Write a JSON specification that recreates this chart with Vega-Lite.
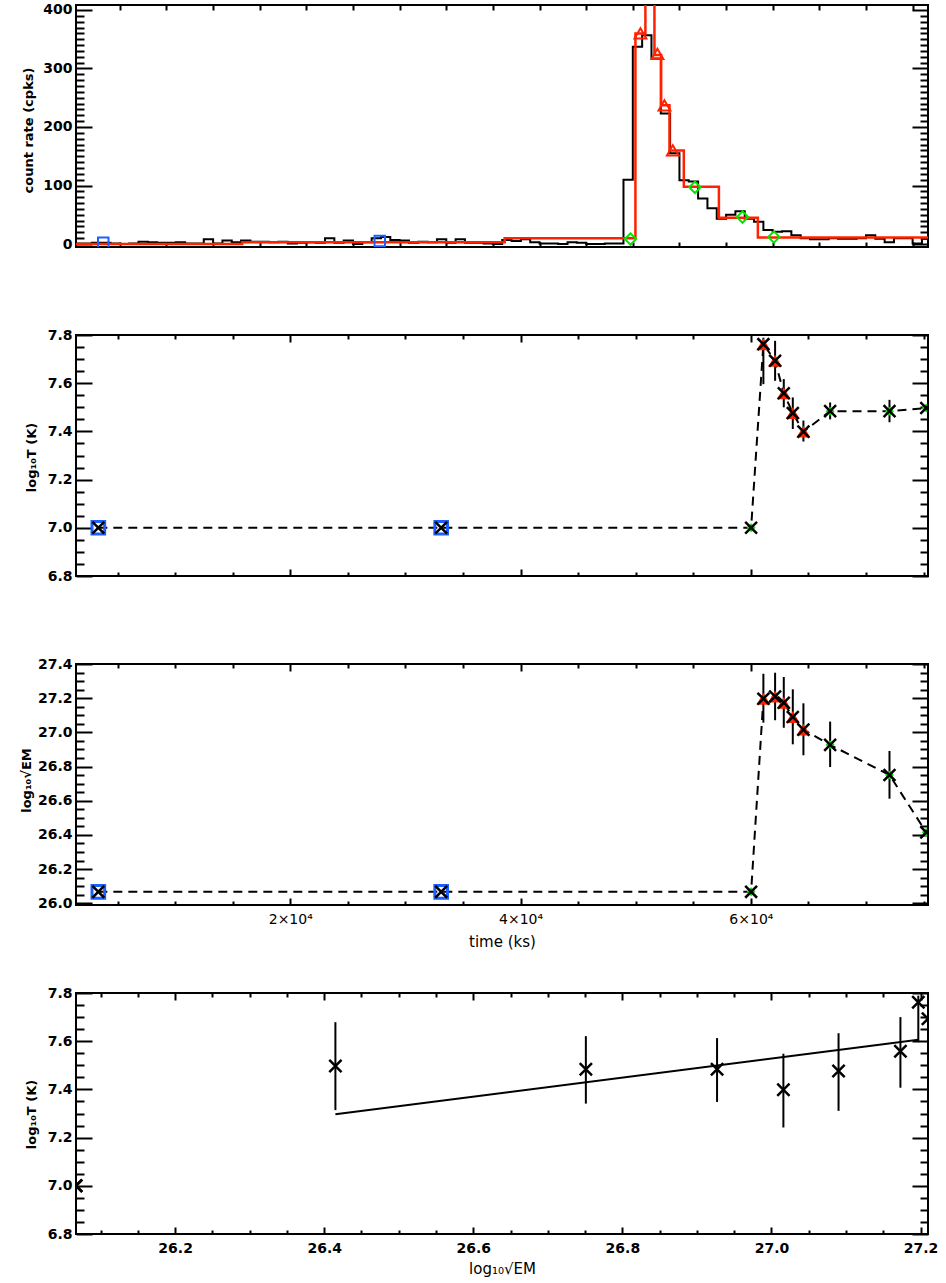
{
  "$schema": "https://vega.github.io/schema/vega-lite/v6.json",
  "padding": {"left": 19, "top": 1, "right": 4, "bottom": 0},
  "background": "white",
  "bounds": "flush",
  "spacing": 88,
  "datasets": {
    "lc": [
      {"u":0,"c":1},{"u":1,"c":1},{"u":2,"c":2},{"u":3,"c":2},{"u":4,"c":1},{"u":5,"c":0},{"u":6,"c":1},{"u":7,"c":4},{"u":8,"c":3},{"u":9,"c":2},
      {"u":10,"c":2},{"u":11,"c":3},{"u":12,"c":1},{"u":13,"c":1},{"u":14,"c":8},{"u":15,"c":1},{"u":16,"c":6},{"u":17,"c":3},{"u":18,"c":6},{"u":19,"c":4},
      {"u":20,"c":4},{"u":21,"c":3},{"u":22,"c":4},{"u":23,"c":1},{"u":24,"c":2},{"u":25,"c":3},{"u":26,"c":2},{"u":27,"c":10},{"u":28,"c":2},{"u":29,"c":6},
      {"u":30,"c":0},{"u":31,"c":3},{"u":32,"c":10},{"u":33,"c":12},{"u":34,"c":7},{"u":35,"c":6},{"u":36,"c":2},{"u":37,"c":4},{"u":38,"c":3},{"u":39,"c":8},
      {"u":40,"c":2},{"u":41,"c":8},{"u":42,"c":2},{"u":43,"c":2},{"u":44,"c":1},{"u":45,"c":0},{"u":46,"c":7},{"u":47,"c":5},{"u":48,"c":8},{"u":49,"c":3},
      {"u":50,"c":1},{"u":51,"c":1},{"u":52,"c":0},{"u":53,"c":3},{"u":54,"c":2},{"u":55,"c":0},{"u":56,"c":0},{"u":57,"c":1},{"u":58,"c":1},{"u":59,"c":110},
      {"u":60,"c":337},{"u":61,"c":357},{"u":62,"c":317},{"u":63,"c":223},{"u":64,"c":155},{"u":65,"c":109},{"u":66,"c":107},{"u":67,"c":78},{"u":68,"c":61},{"u":69,"c":43},
      {"u":70,"c":50},{"u":71,"c":56},{"u":72,"c":43},{"u":73,"c":38},{"u":74,"c":24},{"u":75,"c":21},{"u":76,"c":22},{"u":77,"c":15},{"u":78,"c":10},{"u":79,"c":8},
      {"u":80,"c":8},{"u":81,"c":10},{"u":82,"c":9},{"u":83,"c":9},{"u":84,"c":10},{"u":85,"c":15},{"u":86,"c":9},{"u":87,"c":3},{"u":88,"c":10},{"u":89,"c":10},
      {"u":90,"c":1},{"u":91,"c":9},{"u":92,"c":9}
    ],
    "blocks": [
      {"u":0.3,"c":0},{"u":18.11,"c":3},{"u":46.26,"c":10},{"u":60.28,"c":360},{"u":61.35,"c":440},{"u":62.32,"c":323},
      {"u":63.04,"c":237},{"u":63.93,"c":160},{"u":65.47,"c":98},{"u":69.23,"c":45},{"u":73.41,"c":11},{"u":91.65,"c":11}
    ],
    "lcpts": [
      {"u":3.22,"c":2,"kind":"bg"},{"u":32.87,"c":5,"kind":"bg"},
      {"u":59.75,"c":8.5,"kind":"decay"},{"u":66.66,"c":97,"kind":"decay"},{"u":71.76,"c":46,"kind":"decay"},{"u":75.13,"c":12,"kind":"decay"},
      {"u":60.82,"c":360,"kind":"flare"},{"u":62.64,"c":325,"kind":"flare"},{"u":63.39,"c":237,"kind":"flare"},{"u":64.29,"c":160,"kind":"flare"}
    ],
    "pts": [
      {"t":3333,"T":7.0,"EM":26.067,"kind":"bg"},
      {"t":33106,"T":7.0,"EM":26.067,"kind":"bg"},
      {"t":60020,"T":7.0,"EM":26.067,"kind":"decay"},
      {"t":61086,"T":7.762,"Tlo":7.596,"Thi":7.789,"EM":27.197,"EMlo":27.057,"EMhi":27.343,"T4lo":7.596,"T4hi":7.789,"kind":"flare"},
      {"t":62103,"T":7.693,"Tlo":7.61,"Thi":7.776,"EM":27.21,"EMlo":27.071,"EMhi":27.349,"kind":"flare"},
      {"t":62857,"T":7.558,"Tlo":7.5,"Thi":7.617,"EM":27.173,"EMlo":27.027,"EMhi":27.324,"T4lo":7.407,"T4hi":7.7,"kind":"flare"},
      {"t":63640,"T":7.476,"Tlo":7.41,"Thi":7.541,"EM":27.09,"EMlo":26.93,"EMhi":27.252,"T4lo":7.311,"T4hi":7.633,"kind":"flare"},
      {"t":64563,"T":7.399,"Tlo":7.358,"Thi":7.445,"EM":27.016,"EMlo":26.866,"EMhi":27.17,"T4lo":7.242,"T4hi":7.548,"kind":"flare"},
      {"t":66883,"T":7.484,"Tlo":7.45,"Thi":7.52,"EM":26.927,"EMlo":26.797,"EMhi":27.063,"T4lo":7.348,"T4hi":7.613,"kind":"decay"},
      {"t":72037,"T":7.484,"Tlo":7.438,"Thi":7.531,"EM":26.751,"EMlo":26.612,"EMhi":26.891,"T4lo":7.341,"T4hi":7.621,"kind":"decay"},
      {"t":75230,"T":7.497,"EM":26.415,"T4lo":7.314,"T4hi":7.679,"kind":"decay"}
    ],
    "fit": [
      {"EM":26.415,"T":7.297},{"EM":27.197,"T":7.606}
    ]
  },
  "vconcat": [
    {
      "width": 852, "height": 242,
      "resolve": {"axis": {"x": "independent", "y": "independent"}},
      "layer": [
        {
          "data": {"name": "lc"},
          "mark": {"type": "line", "interpolate": "step-after", "color": "#000", "strokeWidth": 2, "clip": true},
          "encoding": {
            "x": {"field": "u", "type": "quantitative", "scale": {"domain": [0.3, 91.65], "nice": false, "zero": false},
                  "axis": {"orient": "bottom", "values": [5,10,15,20,25,30,35,40,45,50,55,60,65,70,75,80,85,90], "tickSize": -5, "labels": false, "title": null}},
            "y": {"field": "c", "type": "quantitative", "scale": {"domain": [-5.1, 408.5], "nice": false, "zero": false},
                  "axis": {"orient": "left", "values": [0,100,200,300,400], "tickSize": -16, "labelPadding": 20, "title": "count rate (cpks)", "titleX": -48, "titleY": 125, "titleAngle": -90, "titleBaseline": "middle", "titleAlign": "center"}}
          }
        },
        {
          "data": {"name": "blocks"},
          "mark": {"type": "line", "interpolate": "step-after", "color": "#ff2200", "strokeWidth": 2.5, "clip": true},
          "encoding": {
            "x": {"field": "u", "type": "quantitative", "scale": {"domain": [0.3, 91.65], "nice": false, "zero": false},
                  "axis": {"orient": "top", "values": [5,10,15,20,25,30,35,40,45,50,55,60,65,70,75,80,85,90], "tickSize": -5, "labels": false, "title": null}},
            "y": {"field": "c", "type": "quantitative", "scale": {"domain": [-5.1, 408.5], "nice": false, "zero": false},
                  "axis": {"orient": "left", "values": [10,20,30,40,50,60,70,80,90,110,120,130,140,150,160,170,180,190,210,220,230,240,250,260,270,280,290,310,320,330,340,350,360,370,380,390], "tickSize": -8, "labels": false, "title": null}}
          }
        },
        {
          "data": {"name": "lcpts"},
          "transform": [{"filter": "datum.kind == 'bg'"}],
          "mark": {"type": "point", "shape": "square", "filled": false, "color": "#1d5fff", "strokeWidth": 2, "size": 110, "opacity": 1, "clip": true},
          "encoding": {
            "x": {"field": "u", "type": "quantitative", "scale": {"domain": [0.3, 91.65], "nice": false, "zero": false}, "axis": null},
            "y": {"field": "c", "type": "quantitative", "scale": {"domain": [-5.1, 408.5], "nice": false, "zero": false},
                  "axis": {"orient": "right", "values": [0,100,200,300,400], "tickSize": -16, "labels": false, "title": null}}
          }
        },
        {
          "data": {"name": "lcpts"},
          "transform": [{"filter": "datum.kind == 'flare'"}],
          "mark": {"type": "point", "shape": "triangle-up", "filled": false, "color": "#ff2200", "strokeWidth": 2, "size": 140, "opacity": 1, "clip": true},
          "encoding": {
            "x": {"field": "u", "type": "quantitative", "scale": {"domain": [0.3, 91.65], "nice": false, "zero": false}, "axis": null},
            "y": {"field": "c", "type": "quantitative", "scale": {"domain": [-5.1, 408.5], "nice": false, "zero": false},
                  "axis": {"orient": "right", "values": [10,20,30,40,50,60,70,80,90,110,120,130,140,150,160,170,180,190,210,220,230,240,250,260,270,280,290,310,320,330,340,350,360,370,380,390], "tickSize": -8, "labels": false, "title": null}}
          }
        },
        {
          "data": {"name": "lcpts"},
          "transform": [{"filter": "datum.kind == 'decay'"}],
          "mark": {"type": "point", "shape": "diamond", "filled": false, "color": "#00e600", "strokeWidth": 2, "size": 130, "opacity": 1, "clip": true},
          "encoding": {
            "x": {"field": "u", "type": "quantitative", "scale": {"domain": [0.3, 91.65], "nice": false, "zero": false}, "axis": null},
            "y": {"field": "c", "type": "quantitative", "scale": {"domain": [-5.1, 408.5], "nice": false, "zero": false}, "axis": null}
          }
        }
      ]
    },
    {
      "width": 852, "height": 241,
      "resolve": {"axis": {"x": "independent", "y": "independent"}},
      "layer": [
        {
          "data": {"name": "pts"},
          "mark": {"type": "line", "color": "#000", "strokeWidth": 2, "strokeDash": [9, 6], "clip": true},
          "encoding": {
            "x": {"field": "t", "type": "quantitative", "scale": {"domain": [1395, 75381], "nice": false, "zero": false},
                  "axis": {"orient": "bottom", "values": [20000,40000,60000], "tickSize": -7, "labels": false, "title": null}},
            "y": {"field": "T", "type": "quantitative", "scale": {"domain": [6.8, 7.8], "nice": false, "zero": false},
                  "axis": {"orient": "left", "values": [6.8,7.0,7.2,7.4,7.6,7.8], "format": ".1f", "tickSize": -16, "labelPadding": 20, "title": "log₁₀T (K)", "titleX": -45, "titleY": 122, "titleAngle": -90, "titleBaseline": "middle", "titleAlign": "center"}}
          }
        },
        {
          "data": {"name": "pts"},
          "transform": [{"filter": "isValid(datum.Tlo)"}],
          "mark": {"type": "rule", "color": "#000", "strokeWidth": 2, "clip": true},
          "encoding": {
            "x": {"field": "t", "type": "quantitative", "scale": {"domain": [1395, 75381], "nice": false, "zero": false},
                  "axis": {"orient": "bottom", "values": [5000,10000,15000,25000,30000,35000,45000,50000,55000,65000,70000,75000], "tickSize": -4, "labels": false, "title": null}},
            "y": {"field": "Tlo", "type": "quantitative", "scale": {"domain": [6.8, 7.8], "nice": false, "zero": false},
                  "axis": {"orient": "left", "values": [6.85,6.9,6.95,7.05,7.1,7.15,7.25,7.3,7.35,7.45,7.5,7.55,7.65,7.7,7.75], "tickSize": -8, "labels": false, "title": null}},
            "y2": {"field": "Thi"}
          }
        },
        {
          "data": {"name": "pts"},
          "transform": [{"filter": "datum.kind == 'bg'"}],
          "mark": {"type": "point", "shape": "square", "filled": false, "color": "#1d5fff", "strokeWidth": 3, "size": 160, "opacity": 1, "clip": true},
          "encoding": {
            "x": {"field": "t", "type": "quantitative", "scale": {"domain": [1395, 75381], "nice": false, "zero": false},
                  "axis": {"orient": "top", "values": [20000,40000,60000], "tickSize": -7, "labels": false, "title": null}},
            "y": {"field": "T", "type": "quantitative", "scale": {"domain": [6.8, 7.8], "nice": false, "zero": false},
                  "axis": {"orient": "right", "values": [6.8,7.0,7.2,7.4,7.6,7.8], "tickSize": -16, "labels": false, "title": null}}
          }
        },
        {
          "data": {"name": "pts"},
          "transform": [{"filter": "datum.kind == 'flare'"}],
          "mark": {"type": "point", "shape": "triangle-up", "filled": true, "color": "#ff2200", "size": 190, "opacity": 1, "clip": true},
          "encoding": {
            "x": {"field": "t", "type": "quantitative", "scale": {"domain": [1395, 75381], "nice": false, "zero": false},
                  "axis": {"orient": "top", "values": [5000,10000,15000,25000,30000,35000,45000,50000,55000,65000,70000,75000], "tickSize": -4, "labels": false, "title": null}},
            "y": {"field": "T", "type": "quantitative", "scale": {"domain": [6.8, 7.8], "nice": false, "zero": false},
                  "axis": {"orient": "right", "values": [6.85,6.9,6.95,7.05,7.1,7.15,7.25,7.3,7.35,7.45,7.5,7.55,7.65,7.7,7.75], "tickSize": -8, "labels": false, "title": null}}
          }
        },
        {
          "data": {"name": "pts"},
          "transform": [{"filter": "datum.kind == 'decay'"}],
          "mark": {"type": "point", "shape": "diamond", "filled": true, "color": "#00e600", "size": 80, "opacity": 1, "clip": true},
          "encoding": {
            "x": {"field": "t", "type": "quantitative", "scale": {"domain": [1395, 75381], "nice": false, "zero": false}, "axis": null},
            "y": {"field": "T", "type": "quantitative", "scale": {"domain": [6.8, 7.8], "nice": false, "zero": false}, "axis": null}
          }
        },
        {
          "data": {"name": "pts"},
          "mark": {"type": "point", "shape": "M-1,-1L1,1M-1,1L1,-1", "filled": false, "color": "#000", "strokeWidth": 2.5, "size": 140, "opacity": 1, "clip": true},
          "encoding": {
            "x": {"field": "t", "type": "quantitative", "scale": {"domain": [1395, 75381], "nice": false, "zero": false}, "axis": null},
            "y": {"field": "T", "type": "quantitative", "scale": {"domain": [6.8, 7.8], "nice": false, "zero": false}, "axis": null}
          }
        }
      ]
    },
    {
      "width": 852, "height": 241,
      "resolve": {"axis": {"x": "independent", "y": "independent"}},
      "layer": [
        {
          "data": {"name": "pts"},
          "mark": {"type": "line", "color": "#000", "strokeWidth": 2, "strokeDash": [9, 6], "clip": true},
          "encoding": {
            "x": {"field": "t", "type": "quantitative", "scale": {"domain": [1395, 75381], "nice": false, "zero": false},
                  "axis": {"orient": "bottom", "values": [20000,40000,60000], "tickSize": -7, "labelPadding": 14, "labelExpr": "(datum.value / 10000) + '×10⁴'", "labelFontWeight": "normal", "labelFontSize": 14, "title": "time (ks)", "titleFontWeight": "normal", "titleFontSize": 15, "titleX": 426, "titleY": 36, "titleBaseline": "middle", "titleAlign": "center"}},
            "y": {"field": "EM", "type": "quantitative", "scale": {"domain": [25.99, 27.4], "nice": false, "zero": false},
                  "axis": {"orient": "left", "values": [26.0,26.2,26.4,26.6,26.8,27.0,27.2,27.4], "format": ".1f", "tickSize": -16, "labelPadding": 20, "title": "log₁₀√EM", "titleX": -50, "titleY": 116, "titleAngle": -90, "titleBaseline": "middle", "titleAlign": "center"}}
          }
        },
        {
          "data": {"name": "pts"},
          "transform": [{"filter": "isValid(datum.EMlo)"}],
          "mark": {"type": "rule", "color": "#000", "strokeWidth": 2, "clip": true},
          "encoding": {
            "x": {"field": "t", "type": "quantitative", "scale": {"domain": [1395, 75381], "nice": false, "zero": false},
                  "axis": {"orient": "bottom", "values": [5000,10000,15000,25000,30000,35000,45000,50000,55000,65000,70000,75000], "tickSize": -4, "labels": false, "title": null}},
            "y": {"field": "EMlo", "type": "quantitative", "scale": {"domain": [25.99, 27.4], "nice": false, "zero": false},
                  "axis": {"orient": "left", "values": [26.05,26.1,26.15,26.25,26.3,26.35,26.45,26.5,26.55,26.65,26.7,26.75,26.85,26.9,26.95,27.05,27.1,27.15,27.25,27.3,27.35], "tickSize": -8, "labels": false, "title": null}},
            "y2": {"field": "EMhi"}
          }
        },
        {
          "data": {"name": "pts"},
          "transform": [{"filter": "datum.kind == 'bg'"}],
          "mark": {"type": "point", "shape": "square", "filled": false, "color": "#1d5fff", "strokeWidth": 3, "size": 160, "opacity": 1, "clip": true},
          "encoding": {
            "x": {"field": "t", "type": "quantitative", "scale": {"domain": [1395, 75381], "nice": false, "zero": false},
                  "axis": {"orient": "top", "values": [20000,40000,60000], "tickSize": -7, "labels": false, "title": null}},
            "y": {"field": "EM", "type": "quantitative", "scale": {"domain": [25.99, 27.4], "nice": false, "zero": false},
                  "axis": {"orient": "right", "values": [26.0,26.2,26.4,26.6,26.8,27.0,27.2,27.4], "tickSize": -16, "labels": false, "title": null}}
          }
        },
        {
          "data": {"name": "pts"},
          "transform": [{"filter": "datum.kind == 'flare'"}],
          "mark": {"type": "point", "shape": "triangle-up", "filled": true, "color": "#ff2200", "size": 190, "opacity": 1, "clip": true},
          "encoding": {
            "x": {"field": "t", "type": "quantitative", "scale": {"domain": [1395, 75381], "nice": false, "zero": false},
                  "axis": {"orient": "top", "values": [5000,10000,15000,25000,30000,35000,45000,50000,55000,65000,70000,75000], "tickSize": -4, "labels": false, "title": null}},
            "y": {"field": "EM", "type": "quantitative", "scale": {"domain": [25.99, 27.4], "nice": false, "zero": false},
                  "axis": {"orient": "right", "values": [26.05,26.1,26.15,26.25,26.3,26.35,26.45,26.5,26.55,26.65,26.7,26.75,26.85,26.9,26.95,27.05,27.1,27.15,27.25,27.3,27.35], "tickSize": -8, "labels": false, "title": null}}
          }
        },
        {
          "data": {"name": "pts"},
          "transform": [{"filter": "datum.kind == 'decay'"}],
          "mark": {"type": "point", "shape": "diamond", "filled": true, "color": "#00e600", "size": 80, "opacity": 1, "clip": true},
          "encoding": {
            "x": {"field": "t", "type": "quantitative", "scale": {"domain": [1395, 75381], "nice": false, "zero": false}, "axis": null},
            "y": {"field": "EM", "type": "quantitative", "scale": {"domain": [25.99, 27.4], "nice": false, "zero": false}, "axis": null}
          }
        },
        {
          "data": {"name": "pts"},
          "mark": {"type": "point", "shape": "M-1,-1L1,1M-1,1L1,-1", "filled": false, "color": "#000", "strokeWidth": 2.5, "size": 140, "opacity": 1, "clip": true},
          "encoding": {
            "x": {"field": "t", "type": "quantitative", "scale": {"domain": [1395, 75381], "nice": false, "zero": false}, "axis": null},
            "y": {"field": "EM", "type": "quantitative", "scale": {"domain": [25.99, 27.4], "nice": false, "zero": false}, "axis": null}
          }
        }
      ]
    },
    {
      "width": 852, "height": 241,
      "resolve": {"axis": {"x": "independent", "y": "independent"}},
      "layer": [
        {
          "data": {"name": "fit"},
          "mark": {"type": "line", "color": "#000", "strokeWidth": 2, "clip": true},
          "encoding": {
            "x": {"field": "EM", "type": "quantitative", "scale": {"domain": [26.067, 27.21], "nice": false, "zero": false},
                  "axis": {"orient": "bottom", "values": [26.2,26.4,26.6,26.8,27.0,27.2], "format": ".1f", "tickSize": -7, "labelPadding": 14, "title": "log₁₀√EM", "titleFontWeight": "normal", "titleFontSize": 15, "titleX": 426, "titleY": 34, "titleBaseline": "middle", "titleAlign": "center"}},
            "y": {"field": "T", "type": "quantitative", "scale": {"domain": [6.8, 7.8], "nice": false, "zero": false},
                  "axis": {"orient": "left", "values": [6.8,7.0,7.2,7.4,7.6,7.8], "format": ".1f", "tickSize": -16, "labelPadding": 20, "title": "log₁₀T (K)", "titleX": -45, "titleY": 121, "titleAngle": -90, "titleBaseline": "middle", "titleAlign": "center"}}
          }
        },
        {
          "data": {"name": "pts"},
          "transform": [{"filter": "isValid(datum.T4lo)"}],
          "mark": {"type": "rule", "color": "#000", "strokeWidth": 2, "clip": true},
          "encoding": {
            "x": {"field": "EM", "type": "quantitative", "scale": {"domain": [26.067, 27.21], "nice": false, "zero": false},
                  "axis": {"orient": "bottom", "values": [26.1,26.15,26.25,26.3,26.35,26.45,26.5,26.55,26.65,26.7,26.75,26.85,26.9,26.95,27.05,27.1,27.15], "tickSize": -4, "labels": false, "title": null}},
            "y": {"field": "T4lo", "type": "quantitative", "scale": {"domain": [6.8, 7.8], "nice": false, "zero": false},
                  "axis": {"orient": "left", "values": [6.85,6.9,6.95,7.05,7.1,7.15,7.25,7.3,7.35,7.45,7.5,7.55,7.65,7.7,7.75], "tickSize": -8, "labels": false, "title": null}},
            "y2": {"field": "T4hi"}
          }
        },
        {
          "data": {"name": "pts"},
          "mark": {"type": "point", "shape": "M-1,-1L1,1M-1,1L1,-1", "filled": false, "color": "#000", "strokeWidth": 2.5, "size": 150, "opacity": 1, "clip": true},
          "encoding": {
            "x": {"field": "EM", "type": "quantitative", "scale": {"domain": [26.067, 27.21], "nice": false, "zero": false},
                  "axis": {"orient": "top", "values": [26.2,26.4,26.6,26.8,27.0,27.2], "tickSize": -7, "labels": false, "title": null}},
            "y": {"field": "T", "type": "quantitative", "scale": {"domain": [6.8, 7.8], "nice": false, "zero": false},
                  "axis": {"orient": "right", "values": [6.8,7.0,7.2,7.4,7.6,7.8], "tickSize": -16, "labels": false, "title": null}}
          }
        },
        {
          "data": {"name": "pts"},
          "mark": {"type": "point", "shape": "M-1,-1L1,1M-1,1L1,-1", "filled": false, "color": "#000", "strokeWidth": 2.5, "size": 150, "opacity": 0, "clip": true},
          "encoding": {
            "x": {"field": "EM", "type": "quantitative", "scale": {"domain": [26.067, 27.21], "nice": false, "zero": false},
                  "axis": {"orient": "top", "values": [26.1,26.15,26.25,26.3,26.35,26.45,26.5,26.55,26.65,26.7,26.75,26.85,26.9,26.95,27.05,27.1,27.15], "tickSize": -4, "labels": false, "title": null}},
            "y": {"field": "T", "type": "quantitative", "scale": {"domain": [6.8, 7.8], "nice": false, "zero": false},
                  "axis": {"orient": "right", "values": [6.85,6.9,6.95,7.05,7.1,7.15,7.25,7.3,7.35,7.45,7.5,7.55,7.65,7.7,7.75], "tickSize": -8, "labels": false, "title": null}}
          }
        }
      ]
    }
  ],
  "config": {
    "view": {"stroke": "#000", "strokeWidth": 2},
    "axis": {
      "domain": false, "grid": false, "tickColor": "#000", "tickWidth": 2, "tickCap": "butt",
      "labelFont": "DejaVu Sans", "labelFontSize": 14, "labelFontWeight": "bold", "labelColor": "#000",
      "labelFlush": false, "labelOverlap": false, "labelBound": false,
      "titleFont": "DejaVu Sans", "titleFontSize": 13, "titleFontWeight": "bold", "titleColor": "#000"
    }
  }
}
